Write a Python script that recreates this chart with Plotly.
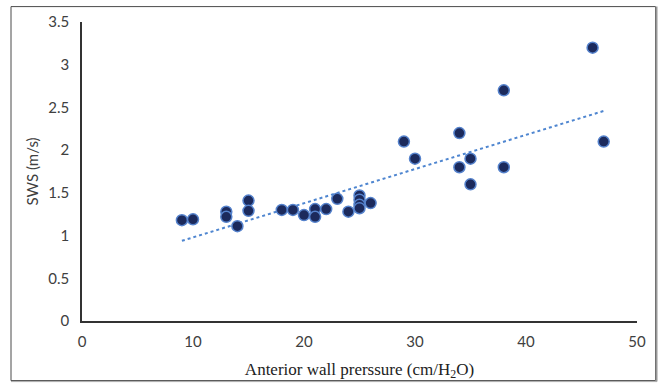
import numpy as np
import plotly.graph_objects as go

pressure = [9, 10, 13, 13, 14, 15, 15, 18, 19, 20, 21, 21, 22, 23, 24, 25, 25, 25, 25, 26,
            29, 30, 34, 34, 35, 35, 38, 38, 46, 47]
sws = [1.18, 1.19, 1.28, 1.22, 1.11, 1.41, 1.29, 1.30, 1.30, 1.24, 1.31, 1.22, 1.31, 1.43, 1.28,
       1.47, 1.42, 1.36, 1.32, 1.38,
       2.10, 1.90, 2.20, 1.80, 1.90, 1.60, 2.70, 1.80, 3.20, 2.10]

x_ticks = [0, 10, 20, 30, 40, 50]
y_ticks = [0, 0.5, 1, 1.5, 2, 2.5, 3, 3.5]
y_tick_labels = ["0", "0.5", "1", "1.5", "2", "2.5", "3", "3.5"]

slope, intercept = np.polyfit(pressure, sws, 1)
trend_x = [min(pressure), max(pressure)]
trend_y = [slope * v + intercept for v in trend_x]

fig = go.Figure()
fig.add_trace(go.Scatter(
    x=trend_x, y=trend_y, mode="lines",
    line=dict(color="#4f86d0", width=2, dash="dot"),
    hoverinfo="skip", showlegend=False))
fig.add_trace(go.Scatter(
    x=pressure, y=sws, mode="markers",
    marker=dict(size=11, color="#1c2a5c", line=dict(color="#5582cc", width=1.5)),
    showlegend=False))

W, H = 659, 391
l, r, t, b = 82, 22, 20, 70
pw, ph = W - l - r, H - t - b

def px_to_paper_x(px):
    return (px - l) / pw

def px_to_paper_y(py):
    return (H - b - py) / ph

fig.add_shape(type="rect", xref="paper", yref="paper",
              x0=px_to_paper_x(11), x1=px_to_paper_x(655.5),
              y0=px_to_paper_y(381), y1=px_to_paper_y(4.5),
              line=dict(color="#4a4a4a", width=1), layer="below")
fig.add_shape(type="line", xref="paper", yref="paper",
              x0=px_to_paper_x(656.5), x1=px_to_paper_x(656.5),
              y0=px_to_paper_y(382), y1=px_to_paper_y(4.5),
              line=dict(color="#999999", width=2))
fig.add_shape(type="line", xref="paper", yref="paper",
              x0=px_to_paper_x(11), x1=px_to_paper_x(657),
              y0=px_to_paper_y(382), y1=px_to_paper_y(382),
              line=dict(color="#aaaaaa", width=1))

fig.update_layout(
    width=W, height=H,
    margin=dict(l=l, r=r, t=t, b=b),
    paper_bgcolor="white", plot_bgcolor="white",
    font=dict(family="Lato, Open Sans, sans-serif", size=15, color="#404040"),
    xaxis=dict(range=[0, 50], tickvals=x_ticks, showgrid=False, zeroline=False,
               showline=True, linecolor="#333333", linewidth=1.5, ticks="",
               ticklabelstandoff=6,
               tickfont=dict(size=15, color="#404040"),
               title=dict(text="Anterior wall prerssure (cm/H<sub>2</sub>O)",
                          font=dict(family="Liberation Serif, serif", size=17, color="#222222"),
                          standoff=14)),
    yaxis=dict(range=[0, 3.5], tickvals=y_ticks, ticktext=y_tick_labels,
               showgrid=False, zeroline=False,
               showline=True, linecolor="#333333", linewidth=1.5, ticks="",
               ticklabelstandoff=8,
               tickfont=dict(size=15, color="#404040"),
               title=dict(text="SWS (m/s)", font=dict(size=15, color="#404040"), standoff=6)),
)

fig.write_html("out.html", config={"displayModeBar": False},
               post_script="document.body.style.margin='0';document.body.style.overflow='hidden';")
